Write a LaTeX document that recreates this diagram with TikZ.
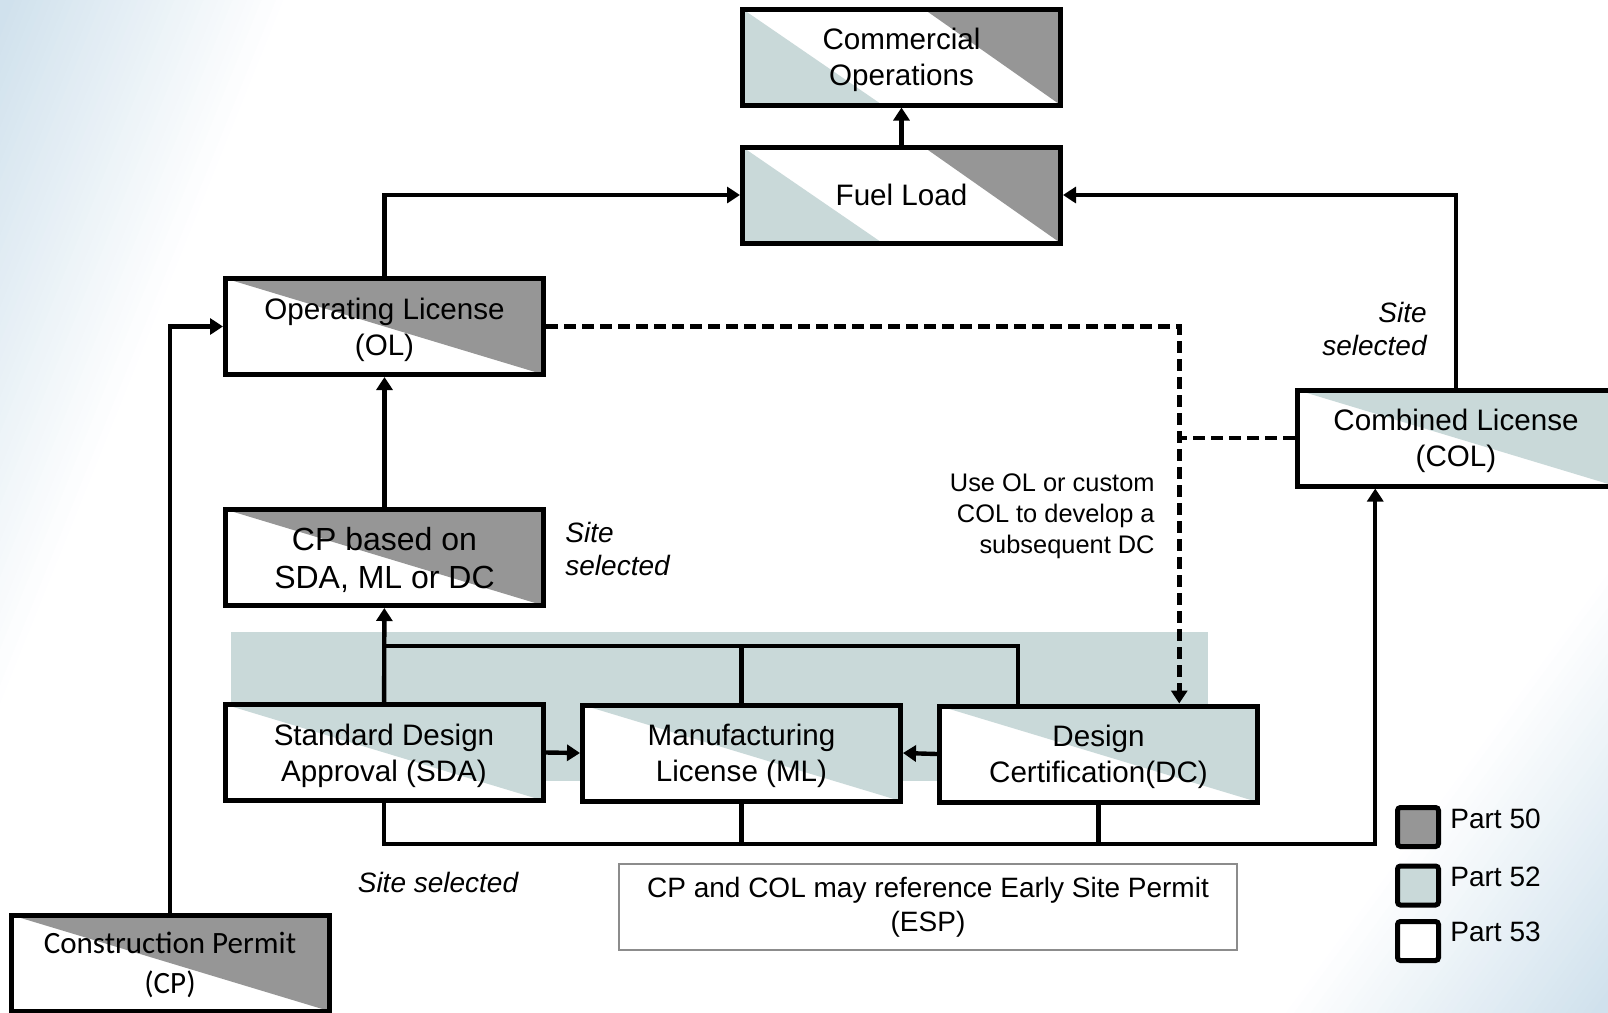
\documentclass[tikz,border=0pt]{standalone}
\usepackage{fontspec}
\setmainfont{Liberation Sans}
\newfontfamily\calfont{Carlito}
\usetikzlibrary{arrows.meta, calc}
\usepackage{xcolor}

\definecolor{partfifty}{RGB}{150,150,150}
\definecolor{partfiftytwo}{RGB}{201,217,217}
\definecolor{bgblue}{RGB}{206,224,236}

\tikzset{
  lic/.style={draw, fill=white, line width=2.5pt, minimum width=159pt, minimum height=48pt,
    inner sep=0pt, text depth=0pt, align=center, font=\fontsize{14.8}{18}\selectfont},
  fifty/.style={lic, path picture={
    \fill[partfifty] (path picture bounding box.north west) -- (path picture bounding box.north east)
      -- (path picture bounding box.south east) -- cycle;}},
  fiftytwo/.style={lic, path picture={
    \fill[partfiftytwo] (path picture bounding box.north west) -- (path picture bounding box.north east)
      -- (path picture bounding box.south east) -- cycle;}},
  mixed/.style={lic, path picture={
    \fill[partfiftytwo] (path picture bounding box.north west) -- (path picture bounding box.south west)
      -- ($(path picture bounding box.south west)!0.44!(path picture bounding box.south east)$) -- cycle;
    \fill[partfifty] ($(path picture bounding box.north west)!0.57!(path picture bounding box.north east)$)
      -- (path picture bounding box.north east) -- (path picture bounding box.south east) -- cycle;}},
  conn/.style={line width=2.2pt, -{Triangle[width=8pt,length=6.5pt]}},
  link/.style={line width=2.2pt},
  dashlink/.style={line width=2.4pt, dash pattern=on 6pt off 3pt},
  site/.style={inner sep=0pt, font=\fontsize{14}{16.5}\selectfont\itshape},
  legbox/.style={draw, line width=2.5pt, rounded corners=1.5pt, minimum width=20.5pt,
    minimum height=19.5pt, inner sep=0pt},
  legtext/.style={anchor=west, inner sep=0pt, font=\fontsize{14}{17}\selectfont}
}

\begin{document}
\begin{tikzpicture}[x=0.5pt, y=-0.5pt]
    \clip (0,0) rectangle (1608,1013);

    % Background shading in the corners
    \foreach \i in {40,...,1} {
      \pgfmathtruncatemacro{\mix}{100-2.5*\i}
      \fill[bgblue!\mix!white] (0,0) -- (7.25*\i,0) -- (0,18*\i) -- cycle;
      \fill[bgblue!\mix!white] (1608,1013) -- ({1608-8.25*\i},1013) -- (1608,{1013-11.25*\i}) -- cycle;
    }

    % Part 52 band behind the design boxes
    \fill[partfiftytwo] (231,632) rectangle (1208,781);

    % Define the boxes
    \node[mixed] (comops) at (901.5,57) {Commercial\\Operations};
    \node[mixed] (fuel) at (901.5,195) {Fuel Load};
    \node[fifty] (ol) at (384.5,326.5) {Operating License\\(OL)};
    \node[fifty, font=\fontsize{16}{19}\selectfont] (cpsda) at (384.5,557.5) {CP based on\\SDA, ML or DC};
    \node[fiftytwo] (sda) at (384,752.5) {Standard Design\\Approval (SDA)};
    \node[fiftytwo] (ml) at (741.5,753) {Manufacturing\\License (ML)};
    \node[fiftytwo] (dc) at (1098.5,754) {Design\\Certification(DC)};
    \node[fiftytwo] (col) at (1456,438) {Combined License\\(COL)};
    \node[fifty, font=\calfont\fontsize{15.5}{20}\selectfont] (cp) at (170,963) {Construction Permit\\(CP)};

    % Helper points on the box edges
    \coordinate (dcup) at ($(dc.north west)!0.25!(dc.north east)$);
    \coordinate (dcin) at ($(dc.north west)!0.75!(dc.north east)$);
    \coordinate (colin) at ($(col.south west)!0.25!(col.south east)$);
    \coordinate (top) at (384,646);
    \coordinate (bot) at (384,844);

    % Draw the Edges
    \draw[conn] (fuel) -- (comops);
    \draw[conn] (ol.north) |- (fuel.west);
    \draw[conn] (col.north) |- (fuel.east);
    \draw[conn] (cp.north) |- (ol.west);
    \draw[conn] (cpsda) -- (ol);
    \draw[conn] (sda) -- (cpsda);

    % Design boxes feeding the CP
    \draw[link] (ml.north) |- (top);
    \draw[link] (dcup) |- (top);
    \draw[conn] (sda.east) -- (ml.west);
    \draw[conn] (dc.west) -- (ml.east);

    % Design boxes feeding the COL
    \draw[conn] (sda.south) -- (bot) -| (colin);
    \draw[link] (ml.south) -- (ml.south |- bot);
    \draw[link] (dc.south) -- (dc.south |- bot);

    % Dashed feedback to the DC
    \draw[dashlink, -{Triangle[width=8pt,length=6.5pt]}] (ol.east) -| (dcin);
    \draw[dashlink] (col.west) -- (col.west -| dcin);

    % Labels
    \node[site, anchor=west, align=left] (site1) at (565,549) {Site\\selected};
    \node[site, anchor=east, align=right] (site2) at (1427,328.5) {Site\\selected};
    \node[site] (site3) at (438,882) {Site selected};
    \node[anchor=east, align=right, inner sep=0pt, font=\fontsize{12.7}{15.5}\selectfont] (note) at (1155,516)
      {Use OL or custom\\COL to develop a\\subsequent DC};
    \node[draw=black!45, line width=0.6pt, minimum width=309pt, minimum height=43pt, align=center,
      font=\fontsize{14}{17}\selectfont] (esp) at (928,907) {CP and COL may reference Early Site Permit\\(ESP)};

    % Legend
    \node[legbox, fill=partfifty] (leg50) at (1418,827) {};
    \node[legbox, fill=partfiftytwo] (leg52) at (1418,885.5) {};
    \node[legbox, fill=white] (leg53) at (1418,941) {};
    \node[legtext] (txt50) at (1450,819) {Part 50};
    \node[legtext] (txt52) at (1450,877) {Part 52};
    \node[legtext] (txt53) at (1450,932) {Part 53};
\end{tikzpicture}
\end{document}
